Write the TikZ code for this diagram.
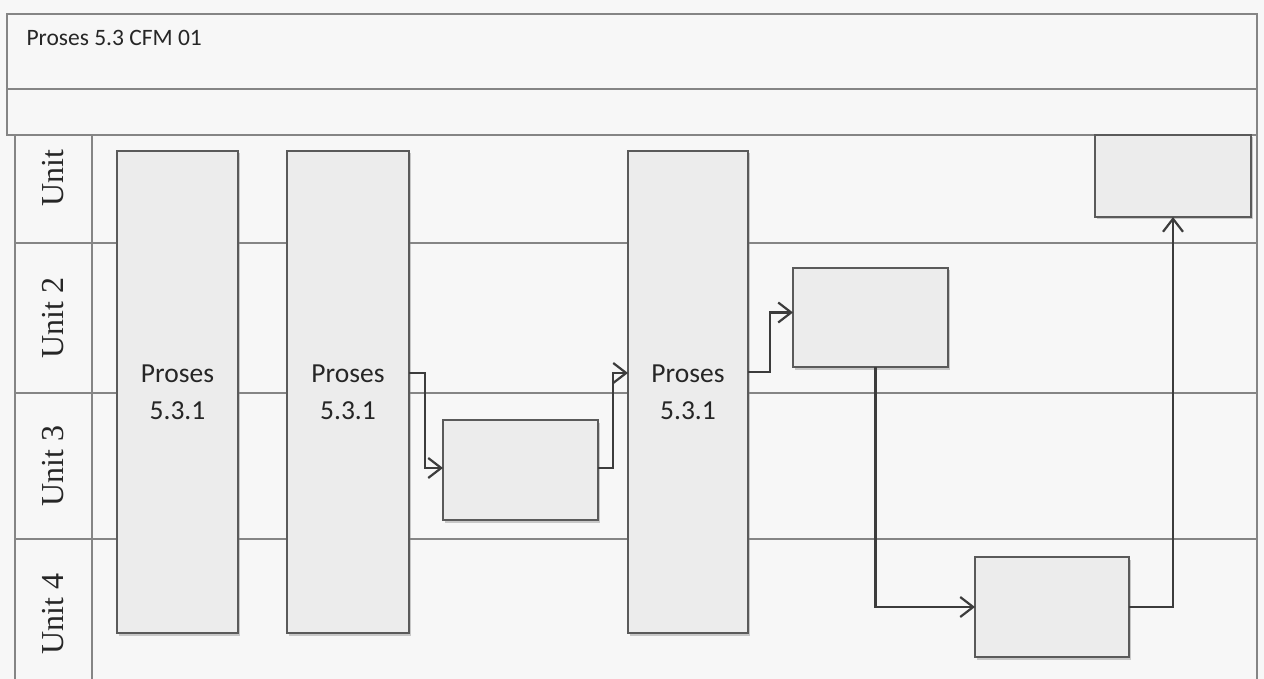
\documentclass[tikz,border=0pt]{standalone}
\usepackage{fontspec}
\setmainfont{Carlito}
\newfontfamily\lanefont{Liberation Serif}
\usetikzlibrary{arrows.meta,shadows}
\definecolor{bgc}{HTML}{F7F7F7}
\definecolor{gridc}{HTML}{858585}
\definecolor{boxc}{HTML}{ECECEC}
\definecolor{boxline}{HTML}{5A5A5A}
\definecolor{connc}{HTML}{3C3C3C}
\definecolor{txt}{HTML}{262626}
\tikzset{
  gridline/.style={draw=gridc, line width=1.3pt},
  procbox/.style={draw=boxline, fill=boxc, line width=1.8pt, rectangle, inner sep=0pt, outer sep=0pt,
    anchor=north west, drop shadow={shadow xshift=2pt, shadow yshift=-2.5pt, opacity=.4, fill=gray}},
  tallbox/.style={procbox, align=center, text=txt, font=\fontsize{27.5}{37}\selectfont},
  lanelabel/.style={rotate=90, anchor=base, text=txt, font=\lanefont\fontsize{32}{36}\selectfont},
  conn/.style={draw=connc, line width=2.2pt, -{Straight Barb[length=13pt,width=20pt,line width=2.2pt]}},
}
\begin{document}
\begin{tikzpicture}[x=1pt,y=-1pt]
\path[fill=bgc] (0,0) rectangle (1264,679);
\useasboundingbox (0,0) rectangle (1264,679);
% header frame
\draw[gridline] (7,14) rectangle (1257,135);
\draw[gridline] (7,89) -- (1257,89);
\node[anchor=base west, text=txt, font=\fontsize{23.5}{28}\selectfont] (title) at (23,46) {Proses 5.3 CFM 01};
% lanes
\draw[gridline] (15,135) -- (15,679);
\draw[gridline] (92,135) -- (92,679);
\draw[gridline] (1257,135) -- (1257,679);
\draw[gridline] (15,243) -- (1257,243);
\draw[gridline] (15,393) -- (1257,393);
\draw[gridline] (15,539) -- (1257,539);
\node[lanelabel] (l1) at (63,178) {Unit};
\node[lanelabel] (l2) at (63,318) {Unit 2};
\node[lanelabel] (l3) at (63,466) {Unit 3};
\node[lanelabel] (l4) at (63,614) {Unit 4};
% tall process boxes
\node[tallbox, minimum width=121pt, minimum height=482pt] (A) at (117,151) {Proses\\5.3.1};
\node[tallbox, minimum width=122pt, minimum height=482pt] (B) at (287,151) {Proses\\5.3.1};
\node[tallbox, minimum width=120pt, minimum height=482pt] (C) at (628,151) {Proses\\5.3.1};
% small boxes
\node[procbox, minimum width=155pt, minimum height=100pt] (D) at (443,420) {};
\node[procbox, minimum width=155pt, minimum height=99pt] (E) at (793,268) {};
\node[procbox, minimum width=154pt, minimum height=100pt] (F) at (975,557) {};
\node[procbox, minimum width=156pt, minimum height=82pt] (G) at (1095,135) {};
% connectors
\draw[conn] ([yshift=19pt]B.east) -- ++(16,0) |- ([yshift=2pt]D.west);
\draw[conn] ([yshift=2pt]D.east) -- ++(15,0) |- ([yshift=19pt]C.west);
\draw[conn] ([yshift=20pt]C.east) -- ++(22,0) |- ([yshift=5pt]E.west);
\draw[conn] ([xshift=5pt]E.south) |- (F.west);
\draw[conn] (F.east) -| (G.south);
\end{tikzpicture}
\end{document}
